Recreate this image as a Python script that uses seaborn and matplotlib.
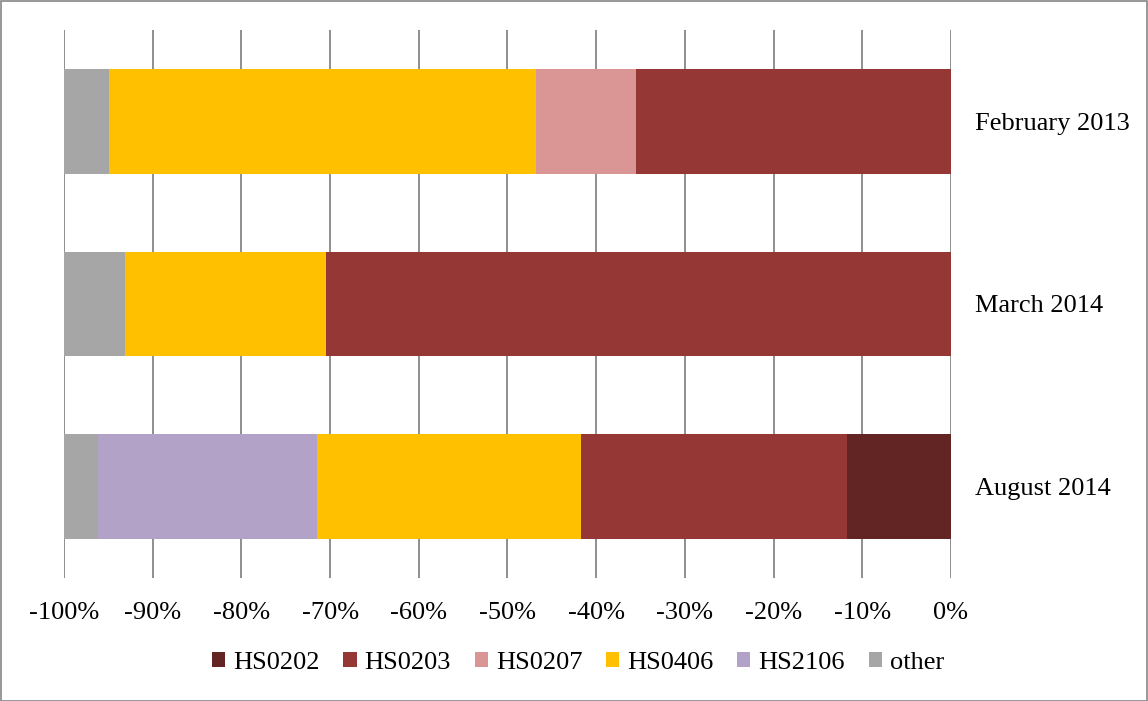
import numpy as np
import pandas as pd
import matplotlib
matplotlib.use("Agg")
import matplotlib.pyplot as plt
import seaborn as sns
from matplotlib.patches import Patch, Rectangle
from matplotlib.ticker import FuncFormatter

# ---- data ----
categories = ["February 2013", "March 2014", "August 2014"]
series = ["HS0202", "HS0203", "HS0207", "HS0406", "HS2106", "other"]
hs0202 = [0.0, 0.0, -11.7]
hs0203 = [-35.5, -70.5, -30.0]
hs0207 = [-11.3, 0.0, 0.0]
hs0406 = [-48.1, -22.6, -29.8]
hs2106 = [0.0, 0.0, -24.7]
other = [-5.1, -6.9, -3.8]
colors = ["#632523", "#953735", "#D99694", "#FFC000", "#B3A2C7", "#A6A6A6"]
xticks = [-100, -90, -80, -70, -60, -50, -40, -30, -20, -10, 0]

values = [hs0202, hs0203, hs0207, hs0406, hs2106, other]
df = pd.DataFrame({s: v for s, v in zip(series, values)}, index=categories)
cum = df.cumsum(axis=1)

sns.set_style("white")
plt.rcParams["font.family"] = ["Liberation Serif", "DejaVu Serif"]

fig = plt.figure(figsize=(11.48, 7.01), dpi=100)
ax = fig.add_axes([64 / 1148, 1 - 578 / 701, (951 - 64) / 1148, (578 - 30) / 701])

# draw from outermost cumulative to innermost so stacked appearance results
for s, c in reversed(list(zip(series, colors))):
    d = pd.DataFrame({"cat": categories, "val": cum[s].values})
    sns.barplot(data=d, x="val", y="cat", color=c, width=0.574,
                saturation=1, ax=ax, orient="h", edgecolor="none", linewidth=0)

ax.set_xlim(-100, 0)
ax.set_ylim(2.5, -0.5)
ax.set_xticks(xticks)
ax.xaxis.set_major_formatter(FuncFormatter(lambda v, p: f"{int(round(v))}%"))
ax.set_xlabel("")
ax.set_ylabel("")
ax.grid(axis="x", color="#868686", linewidth=1.3)
ax.grid(axis="y", visible=False)
ax.set_axisbelow(True)
for sp in ax.spines.values():
    sp.set_visible(False)
ax.yaxis.tick_right()
ax.tick_params(axis="y", length=0, pad=17, labelsize=19, labelcolor="#000000")
ax.tick_params(axis="x", length=0, pad=17, labelsize=19, labelcolor="#000000")

handles = [Patch(facecolor=c, edgecolor="none", label=s) for s, c in zip(series, colors)]
fig.legend(handles=handles, loc="center", bbox_to_anchor=(578 / 1148, 1 - 663 / 701),
           ncol=6, frameon=False, fontsize=19, handlelength=0.5, handleheight=0.5,
           handletextpad=0.3, columnspacing=0.9, labelcolor="#000000")

fig.patches.append(Rectangle((0.5 / 1148, 0.5 / 701), 1 - 1.5 / 1148, 1 - 1.5 / 701,
                             transform=fig.transFigure, fill=False,
                             edgecolor="#868686", linewidth=1.2))

fig.savefig("out.png", dpi=100)
